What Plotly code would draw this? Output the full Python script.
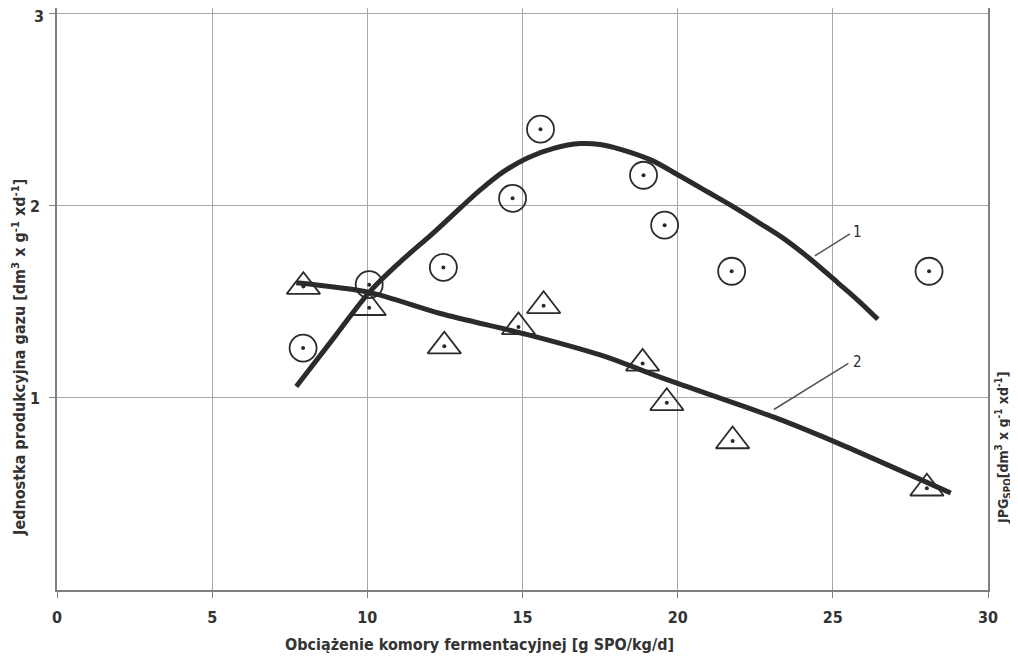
import plotly.graph_objects as go

# Measured points
circ_x = [7.93, 10.06, 12.45, 14.68, 15.58, 18.9, 19.58, 21.74, 28.1]
circ_y = [1.26, 1.59, 1.68, 2.04, 2.40, 2.16, 1.90, 1.66, 1.66]
tri_x = [7.94, 10.06, 12.48, 14.87, 15.68, 18.87, 19.65, 21.77, 28.03]
tri_y = [1.58, 1.47, 1.27, 1.37, 1.48, 1.18, 0.975, 0.776, 0.53]

# Fitted curves
c1_x = [7.71, 9.0, 10.06, 11.0, 12.13, 13.0, 13.65, 14.4, 15.16, 16.0, 16.87, 17.5, 18.16,
        19.13, 20.03, 21.0, 21.8, 22.6, 23.42, 24.3, 25.16, 25.8, 26.45]
c1_y = [1.06, 1.33, 1.55, 1.70, 1.86, 1.99, 2.085, 2.18, 2.25, 2.30, 2.325, 2.32, 2.295,
        2.24, 2.16, 2.07, 1.995, 1.915, 1.83, 1.72, 1.60, 1.51, 1.41]
c2_x = [7.71, 10.06, 12.35, 15.16, 17.5, 19.68, 23.1, 25.16, 28.8]
c2_y = [1.60, 1.55, 1.44, 1.33, 1.224, 1.094, 0.90, 0.765, 0.505]

x_ticks = [0, 5, 10, 15, 20, 25, 30]
y_ticks = [1, 2, 3]

INK = "#2b2b2b"
GRID = "#a8a8a8"
FONT = "DejaVu Sans Condensed"

fig = go.Figure()
fig.add_trace(go.Scatter(x=c1_x, y=c1_y, mode="lines",
                         line=dict(color=INK, width=5, shape="spline", smoothing=1.0), hoverinfo="skip"))
fig.add_trace(go.Scatter(x=c2_x, y=c2_y, mode="lines",
                         line=dict(color=INK, width=5, shape="spline", smoothing=0.8), hoverinfo="skip"))
fig.add_trace(go.Scatter(x=circ_x, y=circ_y, mode="markers",
                         marker=dict(symbol="circle-open", size=27, color=INK, line=dict(color=INK, width=1.8))))
fig.add_trace(go.Scatter(x=tri_x, y=tri_y, mode="markers",
                         marker=dict(symbol="triangle-up-open", size=29, color=INK, line=dict(color=INK, width=1.8))))
fig.add_trace(go.Scatter(x=circ_x + tri_x, y=circ_y + tri_y, mode="markers",
                         marker=dict(symbol="circle", size=4, color=INK)))

# leader lines for curve labels
fig.add_shape(type="line", x0=24.42, y0=1.74, x1=25.55, y1=1.855, line=dict(color="#555", width=1.5))
fig.add_shape(type="line", x0=23.1, y0=0.94, x1=25.5, y1=1.18, line=dict(color="#555", width=1.5))
fig.add_annotation(x=25.8, y=1.865, text="1", showarrow=False, font=dict(family=FONT, size=15, color=INK))
fig.add_annotation(x=25.8, y=1.19, text="2", showarrow=False, font=dict(family=FONT, size=15, color=INK))

# top y tick label (drawn as annotation so it is not dropped at the page edge)
fig.add_annotation(x=-0.0129, xref="paper", xanchor="right", y=y_ticks[-1], yref="y", yanchor="middle",
                   yshift=-3, borderpad=0,
                   text=f"<b>{y_ticks[-1]}</b>", showarrow=False, font=dict(family=FONT, size=16, color="#333"))

# axis titles
fig.add_annotation(x=13.63, xref="x", y=-0.0945, yref="paper", yanchor="middle",
                   text="<b>Obciążenie komory fermentacyjnej [g SPO/kg/d]</b>", showarrow=False,
                   font=dict(family=FONT, size=16, color="#333"))
fig.add_annotation(x=-0.0405, xref="paper", xanchor="center", y=1.21, yref="y", yanchor="middle",
                   text="<b>Jednostka produkcyjna gazu [dm<sup>3</sup> x g<sup>-1</sup> xd<sup>-1</sup>]</b>",
                   showarrow=False, textangle=-90, font=dict(family=FONT, size=16, color="#333"))
fig.add_annotation(x=1.0161, xref="paper", xanchor="center", y=0.74, yref="y", yanchor="middle",
                   text="<b>JPG<sub>SPO</sub>[dm<sup>3</sup> x g<sup>-1</sup> xd<sup>-1</sup>]</b>",
                   showarrow=False, textangle=-90, font=dict(family=FONT, size=14, color="#333"))

# the page body adds an 8px offset, so the figure is sized 8px smaller
fig.update_layout(
    width=1010, height=655, autosize=False,
    margin=dict(l=49, r=30, t=0, b=73, autoexpand=False),
    paper_bgcolor="white", plot_bgcolor="white",
    showlegend=False,
    font=dict(family=FONT, color="#333"),
)
fig.update_xaxes(range=[0, 30], tickvals=x_ticks, ticktext=[f"<b>{v}</b>" for v in x_ticks],
                 showgrid=True, gridcolor=GRID, gridwidth=1.3,
                 showline=True, linecolor="#808080", linewidth=1.6,
                 ticks="outside", ticklen=6, tickcolor="#808080", ticklabelstandoff=6,
                 tickfont=dict(family=FONT, size=16, color="#333"), zeroline=False, automargin=False)
fig.update_yaxes(range=[0, 3.031], tickvals=y_ticks,
                 ticktext=[f"<b>{v}</b>" for v in y_ticks[:-1]] + [""],
                 showgrid=True, gridcolor=GRID, gridwidth=1.3,
                 showline=True, mirror=True, linecolor="#808080", linewidth=1.6,
                 ticks="outside", ticklen=6, tickcolor="#808080", ticklabelstandoff=6,
                 tickfont=dict(family=FONT, size=16, color="#333"), zeroline=False, automargin=False)

fig.write_html("out.html")
